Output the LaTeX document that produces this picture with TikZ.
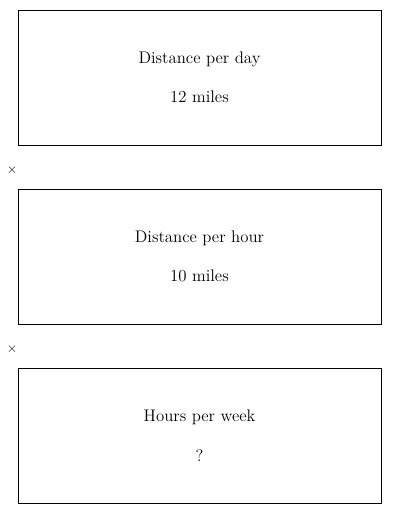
\documentclass[tikz,border=0pt]{standalone}
\usepackage{amsmath}
\usepackage{xcolor}
\usepackage{tikz}
\usetikzlibrary{calc, positioning}

\begin{document}
\begin{tikzpicture}[x=0.75pt, y=-0.75pt,
			card/.style={draw, rectangle, line width=0.6pt, minimum width=272.25pt, minimum height=101.25pt, align=center, font=\fontsize{12.6}{15}\selectfont},
			mult/.style={inner sep=0pt, font=\normalsize}
			]
			\useasboundingbox (0,0) rectangle (400,514);
			
			\node [card](perday) at (199.5,77.5) {Distance per day\\[14.5pt]12 miles};
			
			\node [card](perhour) [below=32.4pt of perday] {Distance per hour\\[14.5pt]10 miles};
			
			\node [card](perweek) [below=32.4pt of perhour] {Hours per week\\[14.5pt]?};
			
			\node [mult](times1) at ($(perday.south west)!0.5!(perhour.north west)+(-5.5,3)$) {$\times$};
			\node [mult](times2) at ($(perhour.south west)!0.5!(perweek.north west)+(-5.5,3)$) {$\times$};
			
		\end{tikzpicture}
\end{document}
